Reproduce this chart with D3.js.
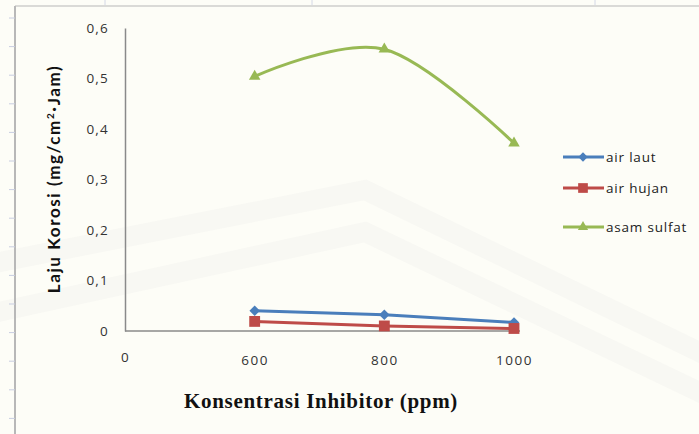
<!DOCTYPE html>
<html>
<head>
<meta charset="utf-8">
<script src="https://cdn.jsdelivr.net/npm/d3@7"></script>
<style>
  html, body { margin: 0; padding: 0; background: #fdfdf7; }
  svg { display: block; }
</style>
</head>
<body>
<svg id="chart" width="699" height="434"></svg>
<script>
// Corrosion rate by inhibitor concentration, three media
const categories = ["0", "600", "800", "1000"];
const airLaut    = [null, 0.040, 0.032, 0.017];
const airHujan   = [null, 0.019, 0.010, 0.005];
const asamSulfat = [null, 0.504, 0.558, 0.372];
const yTicks = [0, 0.1, 0.2, 0.3, 0.4, 0.5, 0.6];

const series = [
  { name: "air laut",    values: airLaut,    color: "#4a7ebb", marker: d3.symbolDiamond2,  size: 70,  smooth: false },
  { name: "air hujan",   values: airHujan,   color: "#be4b48", marker: d3.symbolSquare2,   size: 150, smooth: false },
  { name: "asam sulfat", values: asamSulfat, color: "#98b954", marker: d3.symbolTriangle2, size: 95,  smooth: true }
];

const svg = d3.select("#chart");
const W = 699, H = 434;

svg.append("rect").attr("width", W).attr("height", H).attr("fill", "#fdfdf7");

// very faint background emblem bands
const wm = svg.append("g").attr("fill", "none").attr("stroke", "#f8f8f3").attr("stroke-width", 20);
wm.append("path").attr("d", "M-20,266 L365,190 L720,362");
wm.append("path").attr("d", "M-20,316 L365,232 L720,402");

// sheet frame with ruler ticks on the left edge
const frame = svg.append("g").attr("stroke", "#b8b8b8");
frame.append("line").attr("x1", 15).attr("x2", 15).attr("y1", 6).attr("y2", H).attr("stroke-width", 2);
frame.append("line").attr("x1", 15).attr("x2", W).attr("y1", 6).attr("y2", 6).attr("stroke-width", 1.2);
d3.range(18, H, 28.6).forEach(y => {
  frame.append("line").attr("x1", 9).attr("x2", 15).attr("y1", y).attr("y2", y)
    .attr("stroke", "#c8cde0").attr("stroke-width", 1);
});
[105, 312, 595].forEach(x => {
  frame.append("line").attr("x1", x).attr("x2", x).attr("y1", 0).attr("y2", 5)
    .attr("stroke", "#d4d8e6").attr("stroke-width", 1);
});

// scales
const x = d3.scalePoint().domain(categories).range([125, 514]);
const y = d3.scaleLinear().domain([0, 0.6]).range([331, 28]);

const tickFont = "'Open Sans', Lato, sans-serif";

// y axis
const yAxis = svg.append("g").attr("transform", "translate(125,0)")
  .call(d3.axisLeft(y).tickValues(yTicks).tickSize(0).tickPadding(16)
    .tickFormat(d => d3.format(".1f")(d).replace(".", ",").replace(/^0,0$/, "0")));
yAxis.select(".domain").attr("stroke", "#8a8a8a").attr("stroke-width", 1.5);
yAxis.selectAll("text").attr("font-family", tickFont).attr("font-size", 13.5)
  .attr("letter-spacing", 1.2).attr("fill", "#333");

// x axis
const xAxis = svg.append("g").attr("transform", "translate(0,331)")
  .call(d3.axisBottom(x).tickSize(0).tickPadding(24));
xAxis.select(".domain").attr("d", `M125,0H${x("1000") + 6}`)
  .attr("stroke", "#8a8a8a").attr("stroke-width", 1.5);
xAxis.selectAll("text").attr("font-family", tickFont).attr("font-size", 13.5)
  .attr("letter-spacing", 1.5).attr("fill", "#333")
  .attr("dy", d => d === "0" ? "0.5em" : "0.75em");

// series lines and markers
series.forEach(s => {
  const pts = categories.map((c, i) => ({ c, v: s.values[i] })).filter(p => p.v != null);
  const line = d3.line()
    .x(p => x(p.c)).y(p => y(p.v))
    .curve(s.smooth ? d3.curveCardinal.tension(0) : d3.curveLinear);
  svg.append("path").datum(pts).attr("d", line)
    .attr("fill", "none").attr("stroke", s.color).attr("stroke-width", 3)
    .attr("stroke-linejoin", "round");
});
series.forEach(s => {
  const pts = categories.map((c, i) => ({ c, v: s.values[i] })).filter(p => p.v != null);
  svg.append("g").selectAll("path").data(pts).join("path")
    .attr("transform", p => `translate(${x(p.c)},${y(p.v)})`)
    .attr("d", d3.symbol(s.marker, s.size))
    .attr("fill", s.color);
});

// legend
const legend = svg.append("g");
series.forEach((s, i) => {
  const ly = [157, 188, 227][i];
  const g = legend.append("g").attr("transform", `translate(0,${ly})`);
  g.append("line").attr("x1", 563).attr("x2", 604).attr("stroke", s.color).attr("stroke-width", 3);
  g.append("path").attr("transform", "translate(583,0)")
    .attr("d", d3.symbol(s.marker, s.size * 0.8)).attr("fill", s.color);
  g.append("text").attr("x", 606).attr("dy", "0.35em")
    .attr("font-family", tickFont).attr("font-size", 13.5).attr("letter-spacing", 0.8)
    .attr("fill", "#222")
    .text(s.name);
});

// axis titles
const yTitle = svg.append("text")
  .attr("transform", "translate(60,179) rotate(-90)")
  .attr("text-anchor", "middle")
  .attr("font-family", "Lato, 'Open Sans', sans-serif").attr("font-weight", "bold")
  .attr("font-size", 17).attr("letter-spacing", 1.6).attr("fill", "#111");
yTitle.append("tspan").text("Laju Korosi (mg/cm");
yTitle.append("tspan").attr("dy", -6).attr("font-size", 10).text("2");
yTitle.append("tspan").attr("dy", 6).text("·Jam)");

svg.append("text")
  .attr("x", 321).attr("y", 408)
  .attr("text-anchor", "middle")
  .attr("font-family", "'Liberation Serif', 'DejaVu Serif', serif").attr("font-weight", "bold")
  .attr("font-size", 21).attr("letter-spacing", 0.7).attr("fill", "#111")
  .text("Konsentrasi Inhibitor (ppm)");
</script>
</body>
</html>
